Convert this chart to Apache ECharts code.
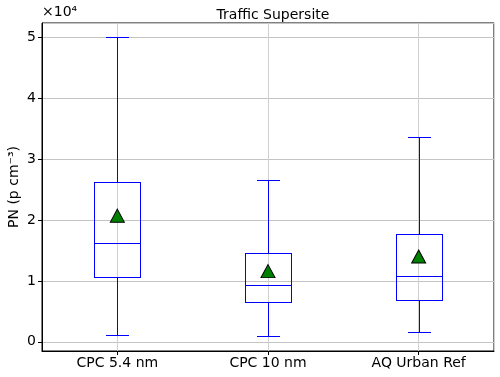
<!DOCTYPE html>
<html>
<head>
<meta charset="utf-8">
<script src="https://cdn.jsdelivr.net/npm/echarts@6/dist/echarts.min.js"></script>
<style>
  html, body { margin: 0; padding: 0; background: #fff; }
  #main { width: 500px; height: 377px; }
</style>
</head>
<body>
<div id="main"></div>
<script>
// box stats (p cm^-3)
const categories = ['CPC 5.4 nm', 'CPC 10 nm', 'AQ Urban Ref']
const whiskerLow = [1150, 1000, 1600]
const q1 = [10600, 6500, 6900]
const median = [16200, 9300, 10800]
const q3 = [26300, 14500, 17700]
const whiskerHigh = [50000, 26600, 33600]
const means = [20700, 11600, 14000]

const boxData = categories.map((c, i) => [i, whiskerLow[i], q1[i], median[i], q3[i], whiskerHigh[i]])
const meanData = categories.map((c, i) => [i, means[i]])

const font = 'DejaVu Sans'
const blue = '#0000ff'

function renderBox(params, api) {
  const x = api.value(0)
  const w = api.size([0.3, 0])[0]
  const cx = Math.round(api.coord([x, 0])[0])
  const py = v => Math.round(api.coord([x, api.value(v)])[1])
  const lo = py(1), b1 = py(2), med = py(3), b3 = py(4), hi = py(5)
  const hw = Math.round(w / 2), cw = Math.round(w / 4)
  // 1px filled rects, crisp blue strokes
  const bar = (x0, y0, ww, hh) => ({
    type: 'rect',
    shape: { x: x0, y: y0, width: ww, height: hh },
    style: { fill: blue }
  })
  return {
    type: 'group',
    children: [
      bar(cx, b1, 1, lo - b1),
      bar(cx, hi, 1, b3 - hi),
      bar(cx - cw, lo, 2 * cw + 1, 1),
      bar(cx - cw, hi, 2 * cw + 1, 1),
      bar(cx - hw, b3, 1, b1 - b3 + 1),
      bar(cx + hw, b3, 1, b1 - b3 + 1),
      bar(cx - hw, b3, 2 * hw + 1, 1),
      bar(cx - hw, b1, 2 * hw + 1, 1),
      bar(cx - hw, med, 2 * hw + 1, 1)
    ]
  }
}

const chart = echarts.init(document.getElementById('main'))
chart.setOption({
  animation: false,
  textStyle: { fontFamily: font },
  title: {
    text: 'Traffic Supersite',
    left: 268,
    textAlign: 'center',
    top: 3,
    textStyle: { fontFamily: font, fontSize: 14, fontWeight: 'normal', color: '#000' }
  },
  graphic: [
    {
      type: 'text',
      left: 42,
      top: 5,
      style: { text: '×10⁴', font: '14px DejaVu Sans', fill: '#000' }
    },
    {
      type: 'text',
      x: 14,
      y: 187,
      rotation: Math.PI / 2,
      style: { text: 'PN (p cm⁻³)', font: '14px DejaVu Sans', fill: '#000', align: 'center', verticalAlign: 'middle' }
    }
  ],
  grid: {
    left: 42, right: 6, top: 23, bottom: 26,
    outerBoundsMode: 'none',
    show: true, borderColor: '#000', borderWidth: 1
  },
  xAxis: {
    type: 'value',
    min: -0.5,
    max: 2.5,
    splitNumber: 3,
    axisLine: { show: true, onZero: false, lineStyle: { color: '#000' } },
    axisTick: { show: true, length: 4, lineStyle: { color: '#000' } },
    axisLabel: {
      margin: 5, fontSize: 14, color: '#000', fontFamily: font,
      showMinLabel: false, showMaxLabel: false,
      formatter: v => (Number.isInteger(v) && categories[v]) ? categories[v] : ''
    },
    splitLine: { show: true, lineStyle: { color: '#d0d0d0', width: 1 } }
  },
  yAxis: {
    type: 'value',
    min: -1500,
    max: 52300,
    splitNumber: 5,
    axisLine: { show: true, onZero: false, lineStyle: { color: '#000' } },
    axisTick: { show: true, length: 4, lineStyle: { color: '#000' } },
    axisLabel: {
      margin: 6, fontSize: 14, color: '#000', fontFamily: font,
      showMinLabel: false, showMaxLabel: false,
      formatter: v => (v % 10000 === 0) ? String(v / 10000) : ''
    },
    splitLine: { show: true, lineStyle: { color: '#c4c4c4', width: 1 } }
  },
  series: [
    {
      type: 'custom',
      renderItem: renderBox,
      data: boxData,
      encode: { x: 0, y: [1, 2, 3, 4, 5] },
      z: 3
    },
    {
      type: 'scatter',
      data: meanData,
      symbol: 'triangle',
      symbolSize: [14, 13],
      itemStyle: { color: '#008000', borderColor: '#000', borderWidth: 1, opacity: 1 },
      z: 5
    }
  ]
})
</script>
</body>
</html>
